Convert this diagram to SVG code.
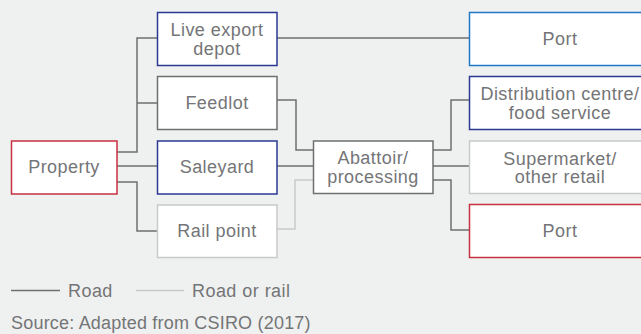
<svg xmlns="http://www.w3.org/2000/svg" width="641" height="334" viewBox="0 0 641 334">
<style>
.bg{fill:#eff0f0}
.box{fill:#ffffff;stroke-width:1.5}
.red{stroke:#c8313f}
.navy{stroke:#2b3993}
.blue{stroke:#2079c7}
.gray{stroke:#6f6f6f}
.light{stroke:#c9c9c9}
text{font-family:"Liberation Sans",Arial,sans-serif;font-size:18px;letter-spacing:0.45px;fill:#747577}
.c{text-anchor:middle}
.road{fill:none;stroke:#6f6f6f;stroke-width:1.5}
.rail{fill:none;stroke:#c9c9c9;stroke-width:1.5}
</style>
<rect class="bg" x="0" y="0" width="641" height="334"/>
<g id="connectors">
<path class="road" d="M117,152 H137 V38 H157 M137,103 H157"/>
<path class="road" d="M117,166 H157"/>
<path class="road" d="M117,182 H137 V231 H157"/>
<path class="road" d="M277,38 H469"/>
<path class="road" d="M277,100 H296 V150 H313"/>
<path class="road" d="M277,166 H313"/>
<path class="rail" d="M277,229 H295 V180 H313"/>
<path class="road" d="M433,150 H451 V100 H469"/>
<path class="road" d="M433,166 H469"/>
<path class="road" d="M433,180 H451 V230 H469"/>
</g>
<g id="property">
<rect class="box red" x="11.5" y="141" width="105.5" height="53"/>
<text class="c" x="64" y="173">Property</text>
</g>
<g id="live-export-depot">
<rect class="box navy" x="157.5" y="12.5" width="119.5" height="53"/>
<text class="c" x="217" y="36">Live export</text>
<text class="c" x="217" y="55">depot</text>
</g>
<g id="feedlot">
<rect class="box gray" x="157.5" y="76.5" width="119.5" height="53"/>
<text class="c" x="217" y="109">Feedlot</text>
</g>
<g id="saleyard">
<rect class="box navy" x="157.5" y="141" width="119.5" height="53"/>
<text class="c" x="217" y="173">Saleyard</text>
</g>
<g id="rail-point">
<rect class="box light" x="157.5" y="205" width="119.5" height="52.5"/>
<text class="c" x="217" y="237">Rail point</text>
</g>
<g id="abattoir">
<rect class="box gray" x="313.5" y="141" width="119.5" height="52.5"/>
<text class="c" x="373" y="164">Abattoir/</text>
<text class="c" x="373" y="182.5">processing</text>
</g>
<g id="port-top">
<rect class="box blue" x="469.5" y="12.5" width="182" height="53"/>
<text class="c" x="560" y="45">Port</text>
</g>
<g id="distribution">
<rect class="box navy" x="469.5" y="76.5" width="182" height="53"/>
<text class="c" x="560" y="100">Distribution centre/</text>
<text class="c" x="560" y="118.5">food service</text>
</g>
<g id="supermarket">
<rect class="box light" x="469.5" y="141" width="182" height="52.5"/>
<text class="c" x="560" y="164.5">Supermarket/</text>
<text class="c" x="560" y="183">other retail</text>
</g>
<g id="port-bottom">
<rect class="box red" x="469.5" y="204.5" width="182" height="53"/>
<text class="c" x="560" y="237">Port</text>
</g>
<g id="legend">
<path class="road" d="M11,290.5 H60"/>
<text x="68" y="297">Road</text>
<path class="rail" d="M136,290.5 H184"/>
<text x="192" y="297">Road or rail</text>
</g>
<text x="11" y="329" style="letter-spacing:0.2px">Source: Adapted from CSIRO (2017)</text>
</svg>
